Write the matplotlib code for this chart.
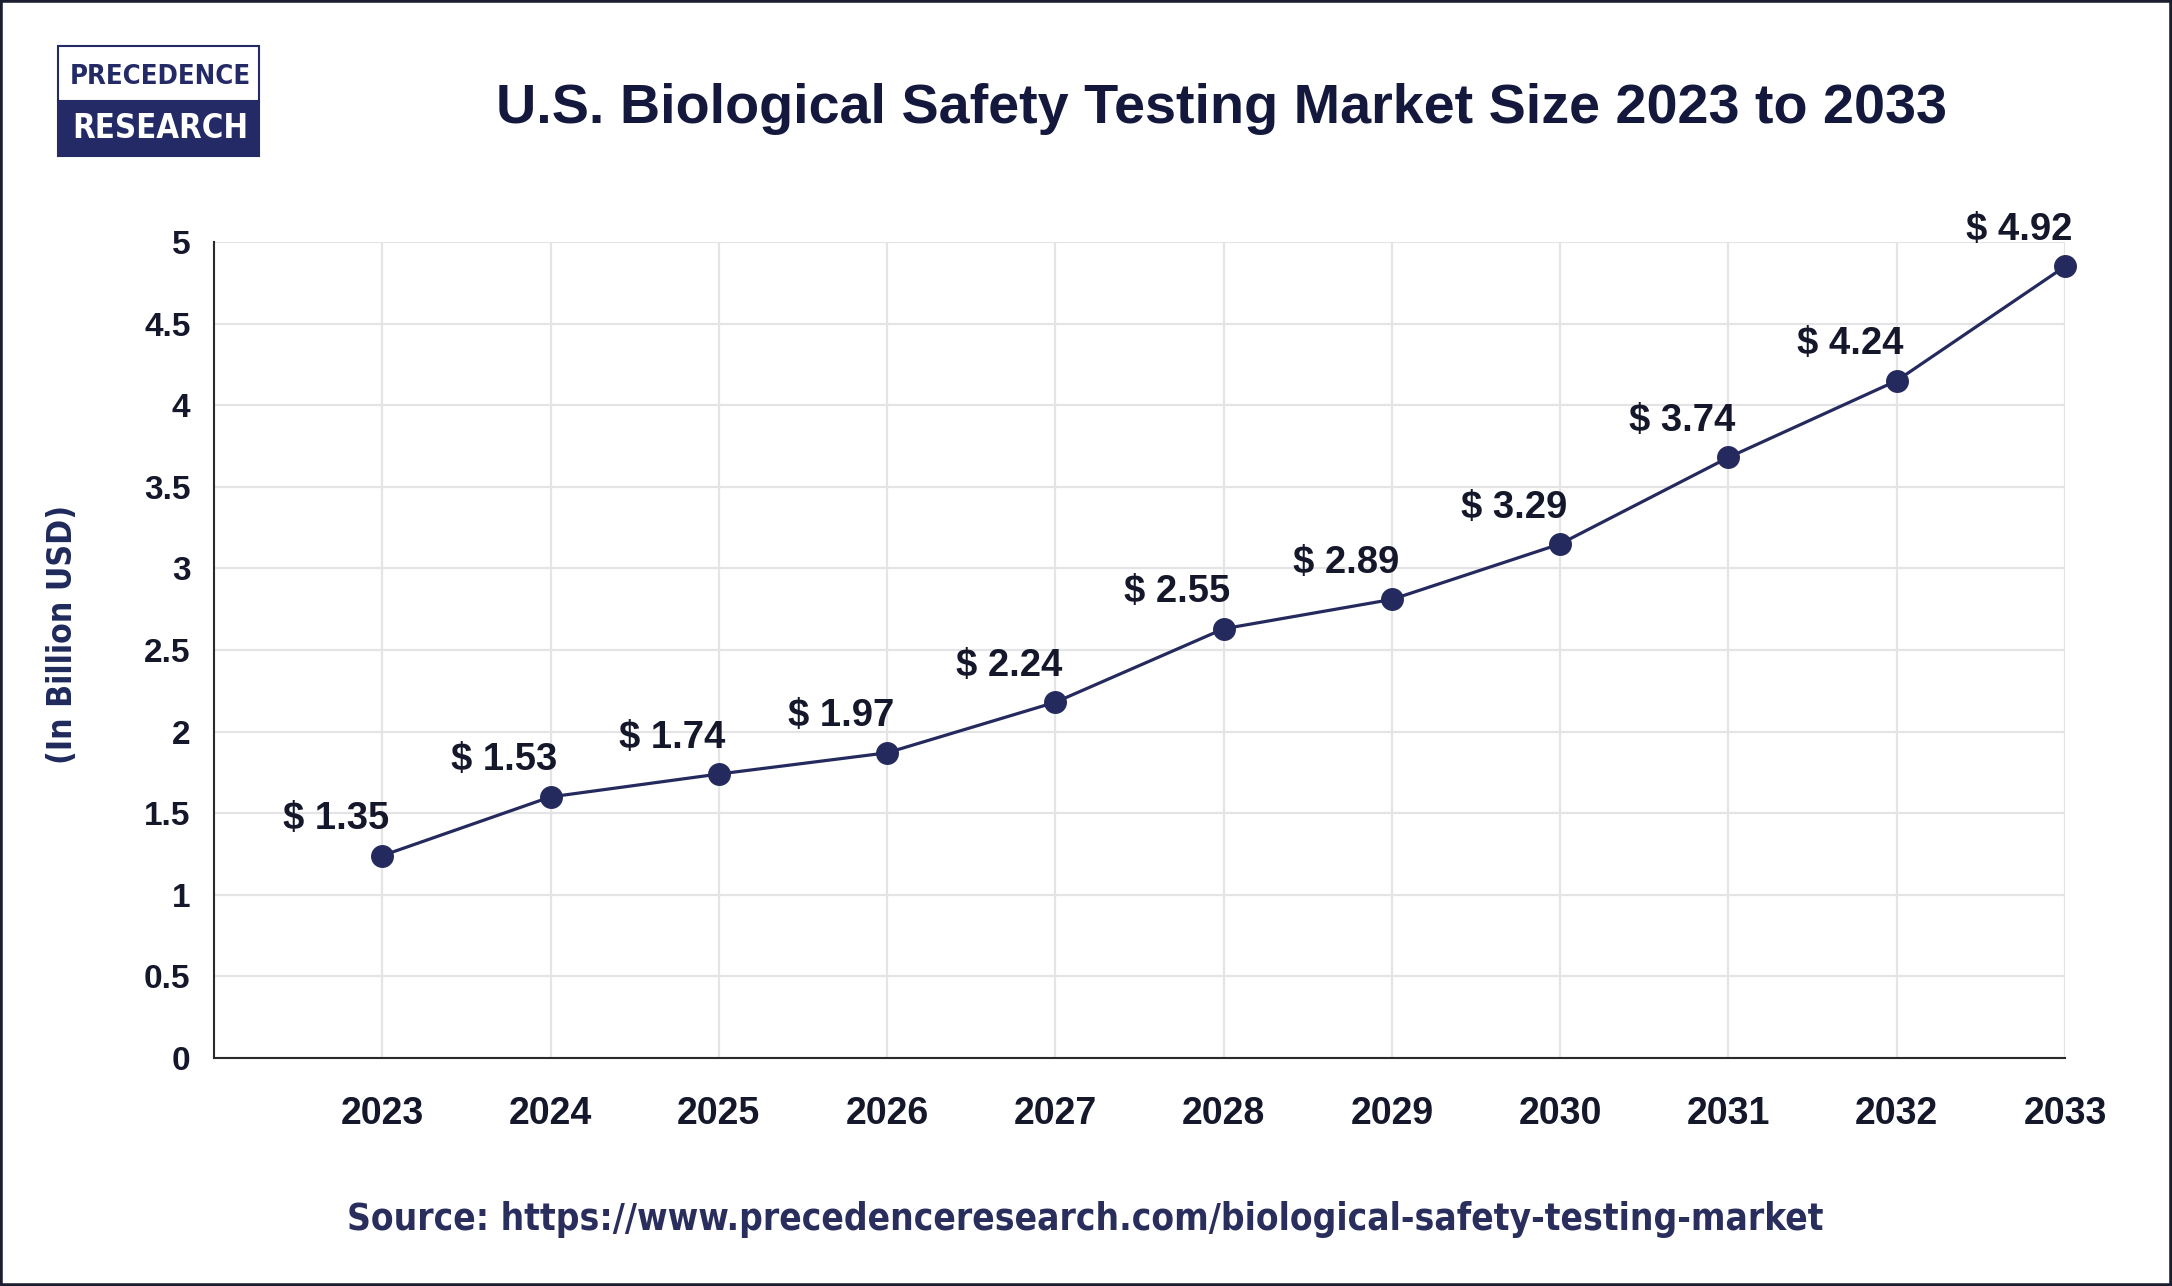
import matplotlib
matplotlib.use("Agg")
import matplotlib.pyplot as plt
from matplotlib.patches import Rectangle

# ---- data ----
years = [2023, 2024, 2025, 2026, 2027, 2028, 2029, 2030, 2031, 2032, 2033]
# values printed on the labels (USD billion)
label_values = [1.35, 1.53, 1.74, 1.97, 2.24, 2.55, 2.89, 3.29, 3.74, 4.24, 4.92]
# vertical position of each dot as drawn in the reference (USD billion)
dot_values = [1.24, 1.60, 1.74, 1.87, 2.18, 2.63, 2.81, 3.15, 3.68, 4.15, 4.85]
y_ticks = [0, 0.5, 1, 1.5, 2, 2.5, 3, 3.5, 4, 4.5, 5]
y_tick_labels = ["0", "0.5", "1", "1.5", "2", "2.5", "3", "3.5", "4", "4.5", "5"]

title = "U.S. Biological Safety Testing Market Size 2023 to 2033"
y_label = "(In Billion USD)"
source = "Source: https://www.precedenceresearch.com/biological-safety-testing-market"

W, H, DPI = 2172, 1286, 100
NAVY = "#252a5e"
TEXT = "#15172b"
COND = ["Liberation Sans Narrow", "DejaVu Sans"]

plt.rcParams["font.family"] = ["Liberation Sans", "DejaVu Sans"]
fig = plt.figure(figsize=(W / DPI, H / DPI), dpi=DPI, facecolor="white")

def px(x, y):
    return x / W, 1 - y / H

# axes placement
left, right, top, bottom = 214, 2065, 242, 1058
ax = fig.add_axes([left / W, 1 - bottom / H, (right - left) / W, (bottom - top) / H])
ax.set_xlim(2022, 2033)
ax.set_ylim(0, 5)
ax.set_xticks(years)
ax.set_xticklabels([str(y) for y in years])
ax.set_yticks(y_ticks)
ax.set_yticklabels(y_tick_labels)
ax.grid(True, color="#e4e4e6", linewidth=1.6, zorder=0)
ax.set_axisbelow(True)
for s in ["top", "right"]:
    ax.spines[s].set_visible(False)
for s in ["left", "bottom"]:
    ax.spines[s].set_color("#2a2a2a")
    ax.spines[s].set_linewidth(1.5)
ax.tick_params(axis="both", length=0)
ax.tick_params(axis="x", pad=27, labelsize=27, labelcolor=TEXT)
ax.tick_params(axis="y", pad=17, labelsize=24, labelcolor=TEXT)
for lab in ax.get_xticklabels() + ax.get_yticklabels():
    lab.set_fontweight("bold")

ax.plot(years, dot_values, color=NAVY, linewidth=2.3, marker="o",
        markersize=15.5, markerfacecolor=NAVY, markeredgecolor=NAVY, zorder=3,
        clip_on=False)

for x, yv, lv in zip(years, dot_values, label_values):
    ax.annotate(f"$ {lv:.2f}", xy=(x, yv), xytext=(5, 19), textcoords="offset points",
                ha="right", va="baseline", fontsize=27.5, fontweight="bold",
                color=TEXT, zorder=4)

# title, y label, source
t_title = fig.text(*px(1222, 123), title, ha="center", va="baseline",
                   fontsize=34, fontweight="bold", color="#14183d")
t_ylab = fig.text(*px(62, 634), y_label, ha="center", va="center", rotation=90,
                  fontsize=24, fontweight="bold", color="#1f2a5c",
                  family=COND, fontstretch="condensed")
t_src = fig.text(*px(1085, 1220), source, ha="center", va="center",
                 fontsize=26, fontweight="bold", color="#2a2e5c",
                 family=COND, fontstretch="condensed")

# logo
fig.patches.append(Rectangle(px(58, 156), 201 / W, 55 / H, transform=fig.transFigure,
                             facecolor="#232a66", edgecolor="#232a66", linewidth=1.5))
fig.patches.append(Rectangle(px(58, 101), 201 / W, 55 / H, transform=fig.transFigure,
                             facecolor="white", edgecolor="#232a66", linewidth=1.5))
t_l1 = fig.text(*px(160, 77), "PRECEDENCE", ha="center", va="center", fontsize=24,
                fontweight="bold", color="#232a66", family=COND, fontstretch="condensed")
t_l2 = fig.text(*px(160, 128), "RESEARCH", ha="center", va="center", fontsize=24,
                fontweight="bold", color="white", family=COND, fontstretch="condensed")

# outer frame
fig.patches.append(Rectangle((0, 0), 1, 1, transform=fig.transFigure, facecolor="none",
                             edgecolor="#1b1e2e", linewidth=4, zorder=10))

# fit text widths to the reference
fig.canvas.draw()
r = fig.canvas.get_renderer()
for t, target, horiz in [(t_title, 1453, True), (t_ylab, 260, False), (t_src, 1481, True),
                         (t_l1, 182, True), (t_l2, 176, True)]:
    bb = t.get_window_extent(r)
    cur = bb.width if horiz else bb.height
    t.set_fontsize(t.get_fontsize() * target / cur)

fig.savefig("out.png", dpi=DPI, facecolor="white")
